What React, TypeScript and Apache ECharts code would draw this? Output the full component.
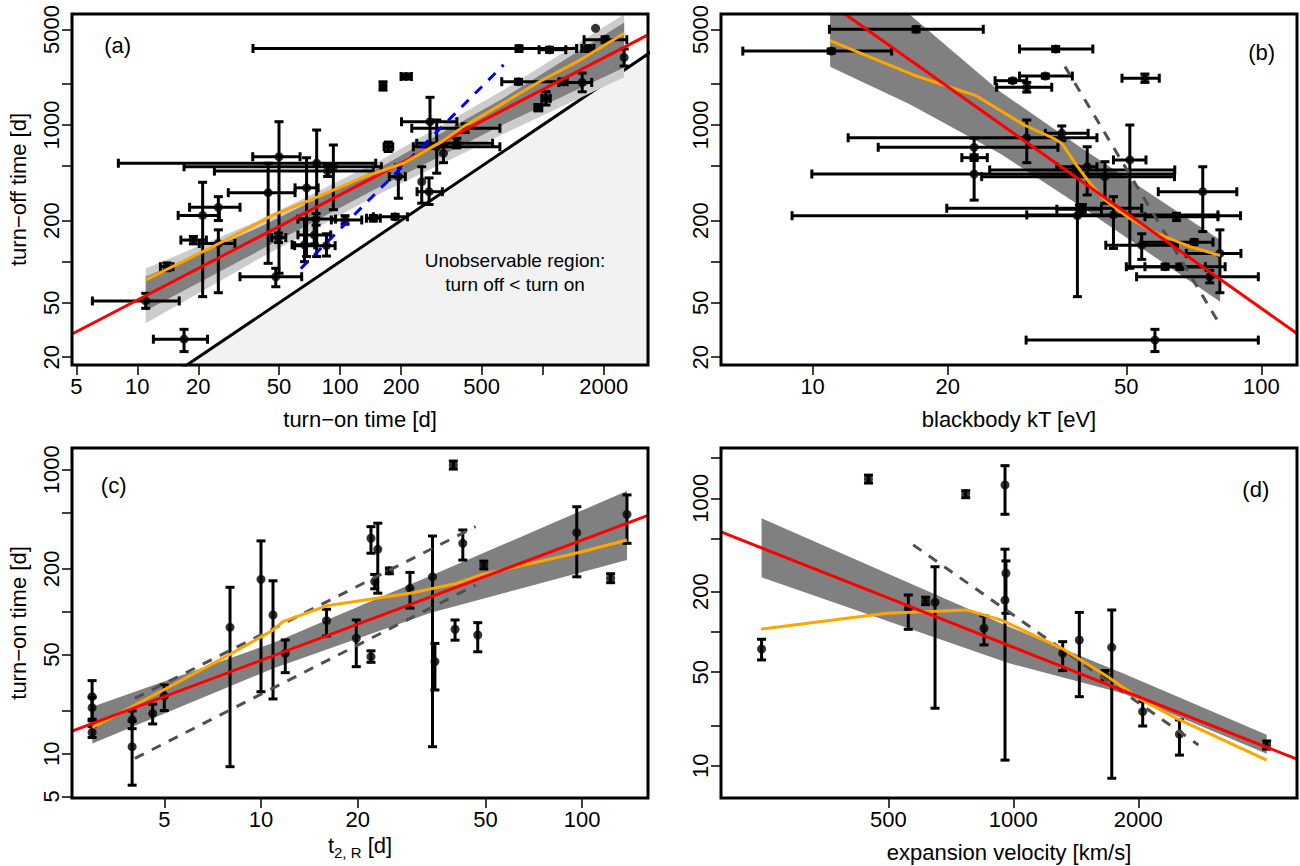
import React, { useEffect, useRef } from "react";
import * as echarts from "echarts";

const FONT = "'Liberation Sans', Arial, Helvetica, sans-serif";

/* ---------------- Panel (a): turn-off vs turn-on ---------------- */
// [turn-on, turn-off, onLow, onHigh, offLow, offHigh]
const aPoints = [
  [11.0, 51.6, 6.0, 16.1, 45.6, 58.7],
  [17.0, 27.1, 12.0, 22.2, 22.0, 32.0],
  [14.0, 91.9, 13.0, 15.0, 86, 98],
  [21.0, 218, 15.9, 25.4, 55.5, 381],
  [25.1, 250, 18.1, 32.1, 200, 299],
  [18.9, 144, 16.4, 21.9, 135, 153],
  [25.1, 136, 20.2, 30.3, 59.3, 171],
  [48.2, 77.6, 32.1, 64.7, 65.6, 89.5],
  [50.0, 586, 37.1, 63.5, 82.3, 1057],
  [44.2, 320, 28.1, 60.0, 97.3, 525],
  [49.7, 150, 46, 54, 138, 162],
  [68.4, 347, 60, 78, 109, 576],
  [76.7, 525, 8.06, 150, 109, 919],
  [92.7, 495, 17.0, 160, 240, 714],
  [86.9, 460, 24.0, 146, 420, 505],
  [76.2, 205, 62, 95, 185, 225],
  [74.6, 157, 62, 90, 135, 205],
  [85.7, 131, 59.7, 94.6, 110, 160],
  [66.8, 133, 58, 75, 100, 205],
  [105.9, 202, 90.6, 128, 188, 217],
  [146, 208, 135, 158, 198, 218],
  [187, 213, 146, 215, 205, 222],
  [194, 419, 175, 210, 291, 509],
  [173, 693, 165, 182, 640, 750],
  [163, 1931, 158, 168, 1800, 2070],
  [212, 2265, 200, 225, 2170, 2360],
  [253, 385, null, null, 268, 495],
  [275, 325, 240, 320, 262, 410],
  [278, 1057, 201, 377, 674, 1594],
  [300, 693, 230, 615, 444, 1088],
  [324, 621, null, null, 530, 720],
  [377, 735, 239, 566, 680, 800],
  [414, 946, 226, 615, 880, 1020],
  [759, 2074, 628, 1265, 1990, 2160],
  [1038, 1567, 990, 1090, 1400, 1750],
  [951, 1339, 915, 990, 1270, 1410],
  [1265, 2074, 1210, 1320, 2000, 2150],
  [764, 3630, 37.2, 1469, 3450, 3800],
  [1081, 3553, 960, 1300, 3400, 3700],
  [1566, 2046, 1200, 1745, 1750, 2400],
  [1671, 3630, 1560, 1790, 3450, 3800],
  [2032, 4207, 1600, 2600, 4000, 4420],
  [1823, 5094, null, null, null, null],
  [2523, 3119, null, null, 2700, 3600],
];
const aFitX = [4.76, 3308];
const aFitY = [29.6, 4564];
const aSmoothX = [11.0, 23.6, 47.2, 71.1, 134, 206, 320, 406, 494, 948, 1528, 2523];
const aSmoothY = [73.6, 129, 221, 282, 422, 525, 762, 973, 1151, 2046, 2985, 4688];
const aBandX = [11.0, 39.8, 158, 631, 2523];
const aOuterLow = [35.5, 105, 316, 851, 2239];
const aOuterHigh = [89.1, 200, 550, 1778, 6457];
const aInnerLow = [43.7, 120, 355, 1000, 2630];
const aInnerHigh = [77.6, 178, 490, 1549, 5623];
const aDashX = [64, 641];
const aDashY = [89, 2754];
const aEqualX = [10, 5000]; // turn off = turn on
const aXTicks = [5, 10, 20, 50, 100, 200, 500, 1000, 2000];
const aXLabels = [5, 10, 20, 50, 100, 200, 500, 2000];
const abYTicks = [20, 50, 100, 200, 500, 1000, 2000, 5000];
const abYLabels = [20, 50, 200, 1000, 5000];

/* ---------------- Panel (b): turn-off vs blackbody kT ---------------- */
const bPoints = [
  [17.0, 5012, 10.9, 24.0, 4800, 5230],
  [11.0, 3475, 6.99, 15.0, 3350, 3600],
  [22.9, 687, 14.0, 35.2, 570, 800],
  [30.0, 807, 12.0, 43.0, 530, 1088],
  [22.9, 438, 9.96, 64, 282, 570],
  [22.9, 577, 21.5, 24.5, 550, 605],
  [39.9, 246, 19.9, 54.1, 230, 262],
  [38.9, 217, 9.0, 89.8, 55.5, 469],
  [34.8, 3597, 28.9, 42.1, 3450, 3750],
  [55.0, 2198, 48.9, 59.2, 2050, 2360],
  [27.9, 2109, 25.5, 30, 2050, 2170],
  [33.0, 2280, 28.9, 37.9, 2200, 2360],
  [30.0, 1888, 25.7, 34.1, 1740, 2050],
  [35.9, 869, 33.0, 41.1, 768, 984],
  [40.9, 495, 35.0, 43.0, 308, 693],
  [38.6, 469, 24.8, 64.1, 440, 500],
  [44.8, 419, 23.8, 64, 267, 539],
  [50.9, 555, 46.8, 55.3, 89.5, 1000],
  [74.0, 325, 58.9, 88.1, 166, 495],
  [39.3, 242, 35, 44, 225, 260],
  [46.8, 220, 30, 80, 125, 299],
  [64.7, 213, 55, 80, 200, 226],
  [54.1, 132, 45, 65, 104, 160],
  [70.8, 139, 54, 78, 133, 145],
  [80.8, 115, 68, 90, 59.3, 171],
  [61.0, 91.9, 50, 75, 88, 96],
  [65.8, 91.9, 55, 83, 88, 96],
  [76.7, 77.6, 52.7, 98.4, 70, 86],
  [57.9, 26.7, 29.9, 98.4, 22, 32],
];
const bFitX = [11.8, 120];
const bFitY = [6486, 29.8];
const bSmoothX = [10.94, 13.65, 16.77, 23.1, 29.6, 34.4, 35.9, 38.7, 41.5, 44.8, 50.9, 58.5, 69.3, 80.9];
const bSmoothY = [4140, 3076, 2323, 1641, 1000, 800, 735, 509, 375, 282, 207, 161, 129, 111];
const bBandX = [10.94, 16.5, 26.2, 39.8, 80.9];
const bBandLow = [2673, 1413, 617, 251, 50.9];
const bBandHigh = [19953, 6383, 1754, 676, 144];
const bDashX = [36.5, 80.9];
const bDashY = [2673, 34.4];
const bXTicks = [10, 20, 50, 100];

/* ---------------- Panel (c): turn-on vs t2,R ---------------- */
const cPoints = [
  [2.98, 25.2, null, null, 17, 32.7],
  [2.98, 21.1, null, null, 17.5, 25],
  [2.98, 14.1, null, null, 13, 15.5],
  [3.97, 17.3, null, null, 15, 20],
  [3.97, 11.2, null, null, 6.0, 17],
  [4.6, 19.2, null, null, 16.2, 22.3],
  [5.0, 25.5, null, null, 20.1, 30.5],
  [8.01, 77.6, null, null, 8.1, 148.5],
  [10.0, 169, null, null, 27.3, 315],
  [10.9, 94.8, null, null, 24.3, 165],
  [11.9, 50.9, null, null, 37.2, 63.2],
  [16.0, 86.5, null, null, 67.5, 104],
  [19.8, 65, null, null, 41, 87.4],
  [22.0, 48.2, null, null, 44, 53],
  [22.0, 329, null, null, 258, 397],
  [23.1, 275, null, null, 135, 420],
  [22.6, 163, null, null, 145, 183],
  [25.1, 194, null, null, 185, 203],
  [29.1, 146, null, null, 106, 189],
  [34.2, 176, null, null, 11.2, 341],
  [34.8, 44.5, null, null, 28.1, 59.8],
  [39.7, 1079, null, null, 1010, 1150],
  [40.2, 75.2, null, null, 63, 87.4],
  [42.5, 303, null, null, 231, 376],
  [47.3, 68.5, null, null, 52.2, 83.7],
  [49.4, 213, null, null, 200, 227],
  [96.2, 360, null, null, 176, 548],
  [122.6, 172, null, null, 160, 185],
  [137.9, 485, null, null, 303, 664],
];
const cFitX = [2.58, 160.3];
const cFitY = [14.4, 477];
const cSmoothX = [2.985, 4.966, 8.01, 10.9, 11.68, 16.0, 29.1, 40.6, 48.1, 98.4, 137.9];
const cSmoothY = [15.3, 28.1, 50.1, 74.1, 85.1, 110, 135, 158, 181, 262, 320];
const cBandX = [2.985, 10.9, 33.6, 137.9];
const cBandLow = [11.8, 39.8, 97.7, 231];
const cBandHigh = [21.4, 60.3, 178, 708];
const cDashX = [4.05, 46.6];
const cDashUpperY = [24.5, 397];
const cDashLowerY = [9.27, 154];
const cXTicks = [5, 10, 20, 50, 100];
const cYTicks = [5, 10, 20, 50, 100, 200, 500, 1000];
const cYLabels = [5, 10, 50, 200, 1000];

/* ---------------- Panel (d): turn-on vs expansion velocity ---------------- */
const dPoints = [
  [247.7, 74.6, null, null, 61.8, 88.2],
  [448, 1393, null, null, 1300, 1490],
  [768, 1076, null, null, 1010, 1140],
  [558.6, 148.6, null, null, 104.7, 189],
  [615, 170.6, null, null, 160, 182],
  [648, 166.7, null, null, 26.9, 307.5],
  [850, 106.6, null, null, 80, 132],
  [955, 1258, null, null, 759, 1754],
  [960, 275, null, null, 138, 340],
  [955, 173, null, null, 11.0, 416],
  [1315, 69.3, null, null, 51.4, 84.6],
  [1442, 87.1, null, null, 32.8, 140],
  [1663, 47.6, null, null, 44, 51.5],
  [1726, 76.7, null, null, 8.05, 146],
  [2049, 25.4, null, null, 19.8, 30.1],
  [2512, 17.2, null, null, 12.0, 22],
  [4074, 14.3, null, null, 13.3, 15.3],
];
const dFitX = [197.8, 4820];
const dFitY = [559.7, 11.19];
const dSmoothX = [246.9, 495.5, 772.7, 933.3, 1308, 1663, 2037, 2472, 4074];
const dSmoothY = [105.2, 138, 146.2, 123, 75.5, 47.6, 31.0, 22.6, 11.0];
const dBandX = [247.7, 977, 1841, 4074];
const dBandLow = [256.4, 58.3, 34.7, 12.3];
const dBandHigh = [708, 109.6, 49, 17.0];
const dDashX = [574, 2790];
const dDashY = [448, 14.3];
const dXTicks = [500, 1000, 2000];
const dYTicks = [10, 20, 50, 100, 200, 500, 1000, 2000];
const dYLabels = [10, 50, 200, 1000];

/* ---------------- layout ---------------- */
const GRIDS = [
  { left: 72, top: 14, width: 576, height: 351 },
  { left: 721, top: 14, width: 576, height: 351 },
  { left: 72, top: 448, width: 576, height: 350 },
  { left: 721, top: 448, width: 576, height: 350 },
];
const X_RANGES = [[4.76, 3308], [6.25, 120], [2.58, 160.3], [197.8, 4820]];
const Y_RANGES = [[17.55, 6486], [17.55, 6486], [4.875, 1421], [5.73, 2377]];

const lg = (v: number) => Math.log10(v);
const pairs = (xs: number[], ys: number[]) => xs.map((x, i) => [lg(x), lg(ys[i])]);
const fmt = (v: number) => String(Math.round(Math.pow(10, v)));

const RED = "#ff0000";
const ORANGE = "#ffa500";
const DARK = "#808080";
const LIGHT = "#cccccc";
const DASHGREY = "#505050";

function lineSeries(gi: number, xs: number[], ys: number[], color: string, dashed = false, z = 5) {
  return {
    type: "line",
    xAxisIndex: gi,
    yAxisIndex: gi,
    data: pairs(xs, ys),
    symbol: "none",
    silent: true,
    clip: true,
    z,
    lineStyle: { color, width: 3, type: dashed ? [10, 9] : "solid", cap: "butt" },
  };
}

function bandSeries(gi: number, xs: number[], lo: number[], hi: number[], color: string, z: number) {
  const poly = [
    ...xs.map((x, i) => [lg(x), lg(hi[i])]),
    ...xs.map((x, i) => [lg(x), lg(lo[i])]).reverse(),
  ];
  return {
    type: "custom",
    xAxisIndex: gi,
    yAxisIndex: gi,
    silent: true,
    clip: true,
    z,
    data: [[lg(xs[0]), lg(lo[0])]],
    encode: { x: 0, y: 1 },
    renderItem: (_p: any, api: any) => ({
      type: "polygon",
      shape: { points: poly.map((p) => api.coord(p)) },
      style: { fill: color },
    }),
  };
}

function errorSeries(gi: number, pts: any[]) {
  return {
    type: "custom",
    xAxisIndex: gi,
    yAxisIndex: gi,
    silent: true,
    clip: true,
    z: 3,
    data: pts.map((p) => {
      const [x, y, xl, xh, yl, yh] = p;
      return [lg(x), lg(y), lg(xl ?? x), lg(xh ?? x), lg(yl ?? y), lg(yh ?? y)];
    }),
    encode: { x: 0, y: 1 },
    renderItem: (_p: any, api: any) => {
      const x = api.value(0), y = api.value(1);
      const xl = api.value(2), xh = api.value(3), yl = api.value(4), yh = api.value(5);
      const st = { stroke: "#000", lineWidth: 3 };
      const c = 4.5;
      const kids: any[] = [];
      const seg = (x1: number, y1: number, x2: number, y2: number) =>
        kids.push({ type: "line", shape: { x1, y1, x2, y2 }, style: st });
      if (xh - xl > 1e-9) {
        const a = api.coord([xl, y]), b = api.coord([xh, y]);
        seg(a[0], a[1], b[0], b[1]);
        seg(a[0], a[1] - c, a[0], a[1] + c);
        seg(b[0], b[1] - c, b[0], b[1] + c);
      }
      if (yh - yl > 1e-9) {
        const a = api.coord([x, yl]), b = api.coord([x, yh]);
        seg(a[0], a[1], b[0], b[1]);
        seg(a[0] - c, a[1], a[0] + c, a[1]);
        seg(b[0] - c, b[1], b[0] + c, b[1]);
      }
      return { type: "group", children: kids };
    },
  };
}

function pointSeries(gi: number, pts: any[]) {
  return {
    type: "scatter",
    xAxisIndex: gi,
    yAxisIndex: gi,
    silent: true,
    z: 4,
    symbol: "circle",
    symbolSize: 9,
    itemStyle: { color: "#000" },
    data: pts.map((p) => [lg(p[0]), lg(p[1])]),
  };
}

const nameStyle = { fontSize: 22, fontFamily: FONT, color: "#000" };

function xAxis(gi: number, ticks: number[], labels: number[], name: string, nameGap: number, extraName: any = {}) {
  return {
    type: "value",
    gridIndex: gi,
    min: lg(X_RANGES[gi][0]),
    max: lg(X_RANGES[gi][1]),
    axisLine: { show: false, onZero: false },
    axisTick: { show: true, length: 10, lineStyle: { color: "#000", width: 1.5 }, customValues: ticks.map(lg) },
    axisLabel: { show: true, customValues: labels.map(lg), formatter: fmt, fontSize: 22, fontFamily: FONT, color: "#000", margin: 10 },
    splitLine: { show: false },
    name,
    nameLocation: "middle",
    nameGap,
    nameTextStyle: { ...nameStyle, ...extraName },
  };
}

function yAxis(gi: number, ticks: number[], labels: number[], name: string) {
  return {
    type: "value",
    gridIndex: gi,
    min: lg(Y_RANGES[gi][0]),
    max: lg(Y_RANGES[gi][1]),
    axisLine: { show: false, onZero: false },
    axisTick: { show: true, length: 10, lineStyle: { color: "#000", width: 1.5 }, customValues: ticks.map(lg) },
    axisLabel: { show: true, rotate: 90, customValues: labels.map(lg), formatter: fmt, fontSize: 22, fontFamily: FONT, color: "#000", margin: 10 },
    splitLine: { show: false },
    name,
    nameLocation: "middle",
    nameGap: 43,
    nameTextStyle: nameStyle,
  };
}

function txt(x: number, y: number, text: string, size = 22) {
  return {
    type: "text",
    x,
    y,
    z: 100,
    silent: true,
    style: { text, fontSize: size, fontFamily: FONT, fill: "#000", align: "center", verticalAlign: "middle" },
  };
}

export default function App() {
  const ref = useRef<HTMLDivElement>(null);
  useEffect(() => {
    if (!ref.current) return;
    const chart = echarts.init(ref.current, null, { renderer: "svg" });
    const option: any = {
      animation: false,
      backgroundColor: "#fff",
      grid: GRIDS.map((g) => ({ ...g, show: false, containLabel: false, outerBoundsMode: "none" })),
      xAxis: [
        xAxis(0, aXTicks, aXLabels, "turn\u2212on time [d]", 43),
        xAxis(1, bXTicks, bXTicks, "blackbody kT [eV]", 43),
        xAxis(2, cXTicks, cXTicks, "{n|t}{s|2, R}{n| [d]}", 32, {
          rich: {
            n: { fontSize: 22, fontFamily: FONT, color: "#000", lineHeight: 30, verticalAlign: "middle" },
            s: { fontSize: 15, fontFamily: FONT, color: "#000", lineHeight: 14, verticalAlign: "bottom" },
          },
        }),
        xAxis(3, dXTicks, dXTicks, "expansion velocity [km/s]", 43),
      ],
      yAxis: [
        yAxis(0, abYTicks, abYLabels, "turn\u2212off time [d]"),
        yAxis(1, abYTicks, abYLabels, ""),
        yAxis(2, cYTicks, cYLabels, "turn\u2212on time [d]"),
        yAxis(3, dYTicks, dYLabels, ""),
      ],
      series: [
        // (a)
        {
          type: "line",
          xAxisIndex: 0,
          yAxisIndex: 0,
          data: pairs(aEqualX, aEqualX),
          symbol: "none",
          silent: true,
          clip: true,
          z: 1,
          lineStyle: { color: "#000", width: 3 },
          areaStyle: { color: "#f2f2f2", opacity: 1, origin: "start" },
        },
        bandSeries(0, aBandX, aOuterLow, aOuterHigh, LIGHT, 2),
        bandSeries(0, aBandX, aInnerLow, aInnerHigh, DARK, 2),
        errorSeries(0, aPoints),
        pointSeries(0, aPoints),
        lineSeries(0, aDashX, aDashY, "#0000ff", true),
        lineSeries(0, aFitX, aFitY, RED),
        lineSeries(0, aSmoothX, aSmoothY, ORANGE),
        // (b)
        bandSeries(1, bBandX, bBandLow, bBandHigh, DARK, 2),
        errorSeries(1, bPoints),
        pointSeries(1, bPoints),
        lineSeries(1, bDashX, bDashY, DASHGREY, true),
        lineSeries(1, bSmoothX, bSmoothY, ORANGE),
        lineSeries(1, bFitX, bFitY, RED),
        // (c)
        bandSeries(2, cBandX, cBandLow, cBandHigh, DARK, 2),
        errorSeries(2, cPoints),
        pointSeries(2, cPoints),
        lineSeries(2, cDashX, cDashUpperY, DASHGREY, true),
        lineSeries(2, cDashX, cDashLowerY, DASHGREY, true),
        lineSeries(2, cSmoothX, cSmoothY, ORANGE),
        lineSeries(2, cFitX, cFitY, RED),
        // (d)
        bandSeries(3, dBandX, dBandLow, dBandHigh, DARK, 2),
        errorSeries(3, dPoints),
        pointSeries(3, dPoints),
        lineSeries(3, dDashX, dDashY, DASHGREY, true),
        lineSeries(3, dSmoothX, dSmoothY, ORANGE),
        lineSeries(3, dFitX, dFitY, RED),
      ],
      graphic: [
        ...GRIDS.map((g) => ({
          type: "rect",
          z: 100,
          silent: true,
          shape: { x: g.left, y: g.top, width: g.width, height: g.height },
          style: { fill: "none", stroke: "#000", lineWidth: 3 },
        })),
        txt(117.7, 45.5, "(a)"),
        txt(1261.7, 52.3, "(b)"),
        txt(113.7, 485, "(c)"),
        txt(1255.8, 489, "(d)"),
        txt(515, 260.7, "Unobservable region:", 19),
        txt(515, 284, "turn off < turn on", 19),
      ],
    };
    chart.setOption(option);
    return () => chart.dispose();
  }, []);
  return (
    <div
      ref={ref}
      style={{ position: "absolute", left: 0, top: 0, width: 1300, height: 866, background: "#fff" }}
    />
  );
}
